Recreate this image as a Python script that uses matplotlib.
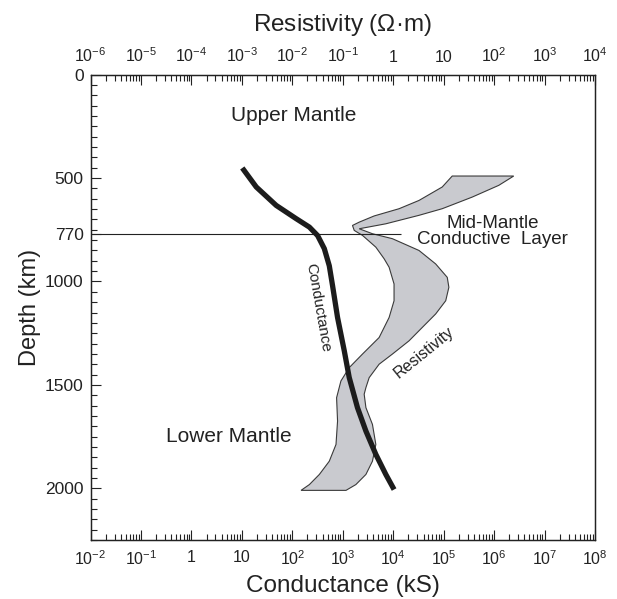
import matplotlib

matplotlib.use("Agg")
import matplotlib.pyplot as plt
import numpy as np
from matplotlib.ticker import FixedLocator, LogLocator, NullFormatter

plt.rcParams["font.family"] = ["Liberation Sans", "DejaVu Sans"]
plt.rcParams["mathtext.fontset"] = "custom"
plt.rcParams["mathtext.rm"] = "Liberation Sans"
plt.rcParams["mathtext.it"] = "Liberation Sans"
plt.rcParams["mathtext.default"] = "regular"

# conductance profile (kS) against depth (km)
cond_depth = [451, 543, 632, 696, 737, 778, 841, 924, 1020, 1174, 1335, 1464,
              1610, 1723, 1836, 1933, 2006]
cond_value = [10.2, 19.3, 47.9, 119, 218, 318, 431, 541, 628, 789, 1072, 1343,
              1959, 2877, 4529, 7145, 10420]

# resistivity band (ohm-m): low-resistivity edge, top to bottom
rho_low_depth = [490, 543, 608, 648, 683, 713, 729, 753, 777, 834, 890, 931,
                 1012, 1093, 1174, 1271, 1351, 1416, 1481, 1562, 1675, 1788,
                 1869, 1933, 1982, 2010]
rho_low = [14.8, 9.38, 3.25, 1.31, 0.420, 0.212, 0.156, 0.169, 0.246, 0.453,
           0.661, 0.830, 1.04, 1.04, 0.830, 0.526, 0.246, 0.135, 0.092, 0.0755,
           0.0789, 0.0735, 0.0541, 0.0344, 0.0218, 0.0149]
# high-resistivity edge, top to bottom (folds back at the mid-mantle layer)
rho_high_depth = [490, 535, 592, 648, 680, 721, 745, 769, 793, 850, 915, 980,
                  1028, 1093, 1157, 1222, 1287, 1351, 1400, 1465, 1513, 1545,
                  1610, 1691, 1788, 1869, 1933, 1982, 2010]
rho_high = [245, 124, 36.7, 9.38, 3.25, 0.714, 0.212, 0.388, 0.964, 3.25, 6.95,
            11.8, 12.7, 11.0, 6.95, 3.78, 2.06, 0.964, 0.526, 0.334, 0.288,
            0.266, 0.288, 0.388, 0.453, 0.388, 0.288, 0.182, 0.116]

layer_depth = 770
depth_ticks = [0, 500, 770, 1000, 1500, 2000]
cond_ticks = [10.0 ** k for k in range(-2, 9)]
cond_labels = ["$10^{-2}$", "$10^{-1}$", "1", "10", "$10^{2}$", "$10^{3}$",
               "$10^{4}$", "$10^{5}$", "$10^{6}$", "$10^{7}$", "$10^{8}$"]
rho_ticks = [10.0 ** k for k in range(-6, 5)]
rho_labels = ["$10^{-6}$", "$10^{-5}$", "$10^{-4}$", "$10^{-3}$", "$10^{-2}$",
              "$10^{-1}$", "1", "10", "$10^{2}$", "$10^{3}$", "$10^{4}$"]

ink = "#222222"

fig = plt.figure(figsize=(6.17, 5.99), dpi=100)
ax = fig.add_axes([0.1467, 0.0985, 0.8176, 0.7768])
ax2 = ax.twiny()
ax.set_zorder(ax2.get_zorder() + 1)
ax.patch.set_visible(False)

ax.set_xscale("log")
ax.set_xlim(1e-2, 1e8)
ax.set_ylim(2250, 0)
ax2.set_xscale("log")
ax2.set_xlim(1e-6, 1e4)

band_x = np.concatenate([rho_low, rho_high[::-1]])
band_y = np.concatenate([rho_low_depth, rho_high_depth[::-1]])
ax2.fill(band_x, band_y, facecolor="#c9cacf", edgecolor="#3a3a3a", lw=0.8)

ax.hlines(layer_depth, 1e-2, 1.4e4, color=ink, lw=0.8)
ax.plot(cond_value, cond_depth, color="#1c1c1c", lw=3.8, solid_capstyle="butt")

ax.set_xticks(cond_ticks)
ax.set_xticklabels(cond_labels)
ax.xaxis.set_minor_locator(LogLocator(base=10, subs=range(2, 10), numticks=100))
ax.xaxis.set_minor_formatter(NullFormatter())
ax2.set_xticks(rho_ticks)
ax2.set_xticklabels(rho_labels)
ax2.xaxis.set_minor_locator(LogLocator(base=10, subs=range(2, 10), numticks=100))
ax2.xaxis.set_minor_formatter(NullFormatter())

ax.set_yticks(depth_ticks)
ax.yaxis.set_minor_locator(FixedLocator(range(0, 2251, 50)))

for a in (ax, ax2):
    a.tick_params(which="both", direction="in", color=ink, width=0.8,
                  labelsize=11.5, labelcolor=ink)
    a.tick_params(which="major", length=7)
    a.tick_params(which="minor", length=4)
    for s in a.spines.values():
        s.set_linewidth(0.9)
        s.set_color(ink)
ax.tick_params(axis="x", top=False, pad=7)
ax.tick_params(axis="y", right=False, pad=5, labelsize=12.5)
ax2.tick_params(axis="x", pad=7)

ax.set_xlabel("Conductance (kS)", fontsize=17.5, color=ink, labelpad=5)
ax2.set_xlabel("Resistivity ($\\Omega$\u00b7m)", fontsize=17.5, color=ink, labelpad=11)
ax.set_ylabel("Depth (km)", fontsize=17, color=ink, labelpad=3)

ax.text(107, 195, "Upper Mantle", fontsize=15, color=ink, ha="center", va="center")
ax.text(5.6, 1750, "Lower Mantle", fontsize=15, color=ink, ha="center", va="center")
ax.text(9.4e5, 758, "Mid-Mantle\nConductive  Layer", fontsize=13.5, color=ink,
        ha="center", va="center", linespacing=0.95)
ax.text(330, 1127, "Conductance", fontsize=11, color=ink, rotation=-80,
        ha="center", va="center")
ax.text(4.1e4, 1343, "Resistivity", fontsize=11.5, color=ink, rotation=39,
        ha="center", va="center")

fig.savefig("out.png", dpi=100)
